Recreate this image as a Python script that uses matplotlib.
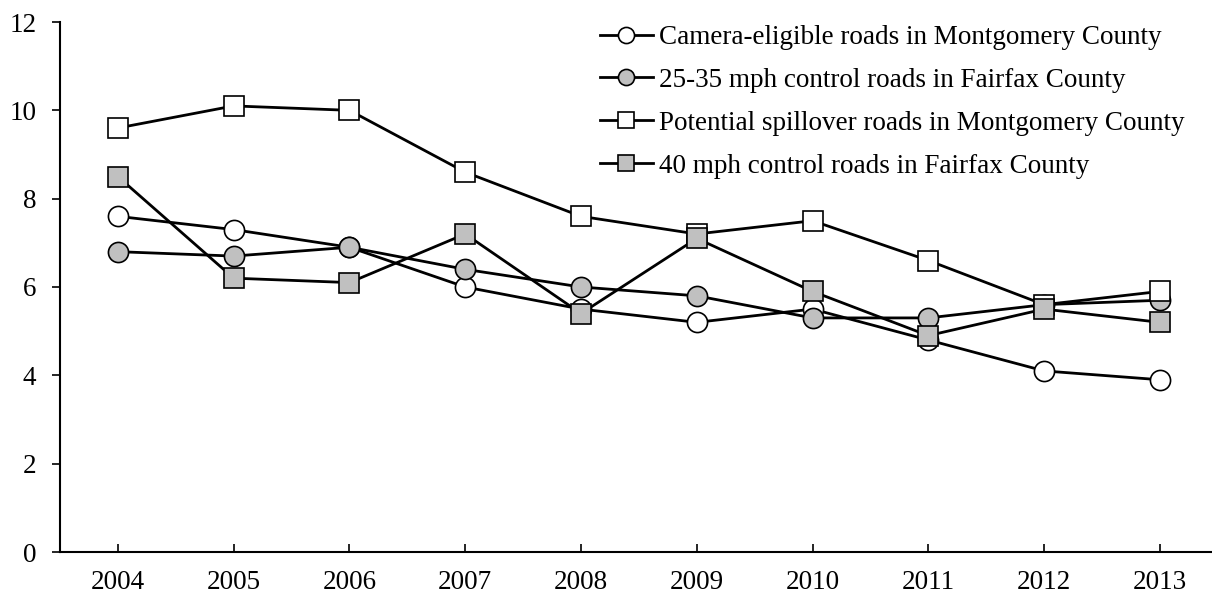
import matplotlib
matplotlib.use("Agg")
import matplotlib.pyplot as plt

years = ["2004", "2005", "2006", "2007", "2008", "2009", "2010", "2011", "2012", "2013"]
camera_mc = [7.6, 7.3, 6.9, 6.0, 5.5, 5.2, 5.5, 4.8, 4.1, 3.9]
ctrl2535_ff = [6.8, 6.7, 6.9, 6.4, 6.0, 5.8, 5.3, 5.3, 5.6, 5.7]
spill_mc = [9.6, 10.1, 10.0, 8.6, 7.6, 7.2, 7.5, 6.6, 5.6, 5.9]
ctrl40_ff = [8.5, 6.2, 6.1, 7.2, 5.4, 7.1, 5.9, 4.9, 5.5, 5.2]
labels = ["Camera-eligible roads in Montgomery County",
          "25-35 mph control roads in Fairfax County",
          "Potential spillover roads in Montgomery County",
          "40 mph control roads in Fairfax County"]
yticks = [0, 2, 4, 6, 8, 10, 12]

plt.rcParams['font.family'] = ['Liberation Serif', 'DejaVu Serif']

W, H = 1212, 597
fig = plt.figure(figsize=(W / 100, H / 100), dpi=100)
ax = fig.add_axes([60 / W, 45 / H, (W - 60) / W, 530 / H])

gray = "#c0c0c0"
x = list(range(len(years)))
series = [
    (camera_mc, "o", "white"),
    (ctrl2535_ff, "o", gray),
    (spill_mc, "s", "white"),
    (ctrl40_ff, "s", gray),
]
for (vals, mk, fc), lab in zip(series, labels):
    ax.plot(x, vals, color="black", lw=2.0, marker=mk, ms=14.5 if mk == "o" else 14,
            mfc=fc, mec="black", mew=1.2, label=lab)

ax.set_xlim(-0.5, 9.45)
ax.set_ylim(0, 12)
ax.set_xticks(x)
ax.set_xticklabels(years)
ax.set_yticks(yticks)
ax.set_yticklabels([str(v) for v in yticks])
for s in ["top", "right"]:
    ax.spines[s].set_visible(False)
for s in ["left", "bottom"]:
    ax.spines[s].set_linewidth(1.5)
ax.tick_params(axis="x", direction="in", length=6, width=1.2, labelsize=19.5, pad=13)
ax.tick_params(axis="y", direction="out", length=6, width=1.2, labelsize=19.5, pad=11)

leg = fig.legend(loc="upper left", bbox_to_anchor=(600 / W, 1 - 25 / H), frameon=False,
                 fontsize=19.5, markerscale=0.8, handlelength=1.95, handletextpad=0.22,
                 labelspacing=0.66, borderaxespad=0, borderpad=0)

fig.savefig("out.png", dpi=100)
